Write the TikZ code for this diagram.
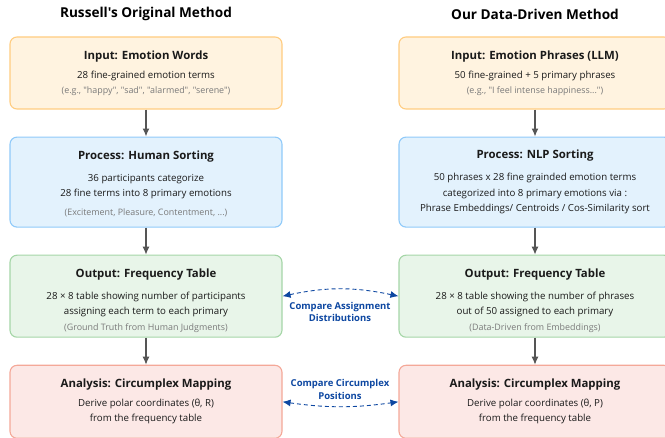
\documentclass[tikz,border=0pt]{standalone}
\usepackage{fontspec}
\setmainfont{Open Sans}[Ligatures=TeXOff]
\usetikzlibrary{arrows.meta,positioning}

\definecolor{inFill}{HTML}{FFF3E0}
\definecolor{inLine}{HTML}{FFCC80}
\definecolor{prFill}{HTML}{E3F2FD}
\definecolor{prLine}{HTML}{90CAF9}
\definecolor{outFill}{HTML}{E8F5E9}
\definecolor{outLine}{HTML}{A5D6A7}
\definecolor{anFill}{HTML}{FCE8E6}
\definecolor{anLine}{HTML}{F4A898}
\definecolor{txtDark}{HTML}{1A1A1A}
\definecolor{txtGray}{HTML}{7A7A7A}
\definecolor{flowGray}{HTML}{555555}
\definecolor{cmpBlue}{HTML}{0D47A1}

\newcommand{\hd}{\fontsize{11.4}{15}\selectfont\bfseries}
\newcommand{\note}{\fontsize{8.9}{15}\selectfont\color{txtGray}}
% extra room above the heading line
\newcommand{\lift}[1]{\rule{0pt}{#1}}

\tikzset{
  stage/.style={rectangle, rounded corners=7pt, line width=1.1pt, minimum width=272pt,
    inner sep=0pt, align=center, text=txtDark, font=\fontsize{9.7}{15}\selectfont},
  inbox/.style={stage, fill=inFill, draw=inLine, minimum height=72pt},
  procbox/.style={stage, fill=prFill, draw=prLine, minimum height=90pt},
  outbox/.style={stage, fill=outFill, draw=outLine, minimum height=82pt},
  anbox/.style={stage, fill=anFill, draw=anLine, minimum height=73pt},
  title/.style={font=\fontsize{13.6}{15}\selectfont\bfseries, text=black},
  flow/.style={->, draw=flowGray, line width=1.3pt},
  cmp/.style={<->, dashed, dash pattern=on 4pt off 3pt, draw=cmpBlue, line width=0.9pt},
  cmplabel/.style={font=\fontsize{9.5}{12.5}\selectfont\bfseries, text=cmpBlue, align=center},
}

\begin{document}
\begin{tikzpicture}[x=1pt,y=1pt,>={Latex[length=8pt,width=7pt]},node distance=27pt]
  \useasboundingbox (0,0) rectangle (665,-438);

  \node[title] (t0) at (146,-14) {Russell's Original Method};
  \node[title] (t1) at (535,-14) {Our Data-Driven Method};

  % Russell's pipeline
  \node[inbox] (in0) at (146,-73) {{\hd Input: Emotion Words}\\[4pt]
    28 fine-grained emotion terms\\
    {\note (e.g., "happy", "sad", "alarmed", "serene")}};
  \node[procbox, below=of in0] (pr0) {{\hd\lift{12pt}Process: Human Sorting}\\[7pt]
    36 participants categorize\\
    28 fine terms into 8 primary emotions\\[4pt]
    {\note (Excitement, Pleasure, Contentment, ...)}};
  \node[outbox, below=of pr0] (out0) {{\hd\lift{17pt}Output: Frequency Table}\\[7pt]
    28 × 8 table showing number of participants\\
    assigning each term to each primary\\[1pt]
    {\note (Ground Truth from Human Judgments)}};
  \node[anbox, below=of out0] (an0) {{\hd Analysis: Circumplex Mapping}\\[4pt]
    Derive polar coordinates (θ, R)\\
    from the frequency table};

  % data-driven pipeline
  \node[inbox] (in1) at (535,-73) {{\hd Input: Emotion Phrases (LLM)}\\[4pt]
    50 fine-grained + 5 primary phrases\\
    {\note (e.g., "I feel intense happiness...")}};
  \node[procbox, below=of in1] (pr1) {{\hd Process: NLP Sorting}\\[7pt]
    50 phrases x 28 fine grainded emotion terms\\[0.5pt]
    categorized into 8 primary emotions via :\\[0.5pt]
    Phrase Embeddings/ Centroids / Cos-Similarity sort};
  \node[outbox, below=of pr1] (out1) {{\hd\lift{17pt}Output: Frequency Table}\\[7pt]
    28 × 8 table showing the number of phrases\\
    out of 50 assigned to each primary\\[1pt]
    {\note (Data-Driven from Embeddings)}};
  \node[anbox, below=of out1] (an1) {{\hd Analysis: Circumplex Mapping}\\[4pt]
    Derive polar coordinates (θ, P)\\
    from the frequency table};

  \foreach \c in {0,1} {
    \draw[flow] (in\c) -- (pr\c);
    \draw[flow] (pr\c) -- (out\c);
    \draw[flow] (out\c) -- (an\c);
  }

  % comparisons between the two tables and the two mappings
  \draw[cmp] (out0.east) to[bend left=12] (out1.west);
  \node[cmplabel] (c0) at (340,-312) {Compare Assignment\\Distributions};
  \draw[cmp] (an0.east) to[bend right=8] (an1.west);
  \node[cmplabel] (c1) at (340,-389.5) {Compare Circumplex\\Positions};
\end{tikzpicture}
\end{document}
